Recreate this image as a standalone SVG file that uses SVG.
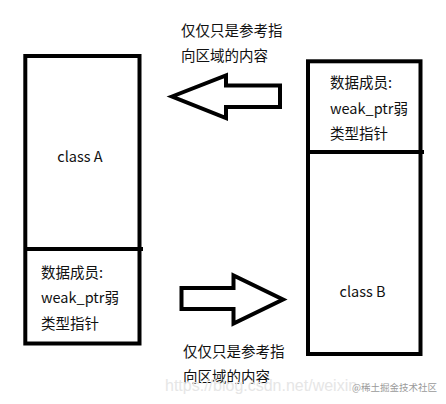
<svg xmlns="http://www.w3.org/2000/svg" width="446" height="404" viewBox="0 0 446 404">
<style>
.box{fill:none;stroke:#000;stroke-width:4}
.arr{fill:#fff;stroke:#000;stroke-width:4;stroke-linejoin:miter}
.t{font-family:"Noto Sans CJK SC","Microsoft YaHei",sans-serif;font-size:14.5px;fill:#111}
.wm{font-family:"Liberation Sans",Arial,sans-serif;font-size:16px;fill:#e6e6e6}
.wm2{font-family:"Noto Sans CJK SC",sans-serif;font-size:9.5px;fill:#9a9a9a}
</style>
<rect width="446" height="404" fill="#fff"/>
<g id="classA">
<rect class="box" x="25.3" y="56" width="114.2" height="287.5"/>
<line class="box" x1="25.3" y1="249" x2="143" y2="249"/>
<text class="t" x="80" y="162" text-anchor="middle">class A</text>
<text class="t" x="41" y="278">数据成员:</text>
<text class="t" x="41" y="303">weak_ptr弱</text>
<text class="t" x="41" y="329">类型指针</text>
</g>
<g id="classB">
<rect class="box" x="308" y="61.3" width="112.5" height="292.7"/>
<line class="box" x1="308" y1="152" x2="424" y2="152"/>
<text class="t" x="330" y="88">数据成员:</text>
<text class="t" x="330" y="113.5">weak_ptr弱</text>
<text class="t" x="330" y="139">类型指针</text>
<text class="t" x="362.5" y="297" text-anchor="middle">class B</text>
</g>
<g id="connectors">
<polygon class="arr" points="172,96.5 226,75.5 226,85.5 280,85.5 280,107 226,107 226,118"/>
<polygon class="arr" points="181.5,288 233.5,288 233.5,275.5 283,299.5 233.5,323.5 233.5,309 181.5,309"/>
</g>
<g id="labels">
<text class="t" x="181" y="36">仅仅只是参考指</text>
<text class="t" x="181" y="61">向区域的内容</text>
<text class="t" x="183" y="357">仅仅只是参考指</text>
<text class="t" x="183" y="382">向区域的内容</text>
</g>
<g id="watermark">
<text class="wm" x="165" y="391">https://blog.csdn.net/weixin</text>
<text class="wm2" x="352" y="391">@稀土掘金技术社区</text>
</g>
</svg>
